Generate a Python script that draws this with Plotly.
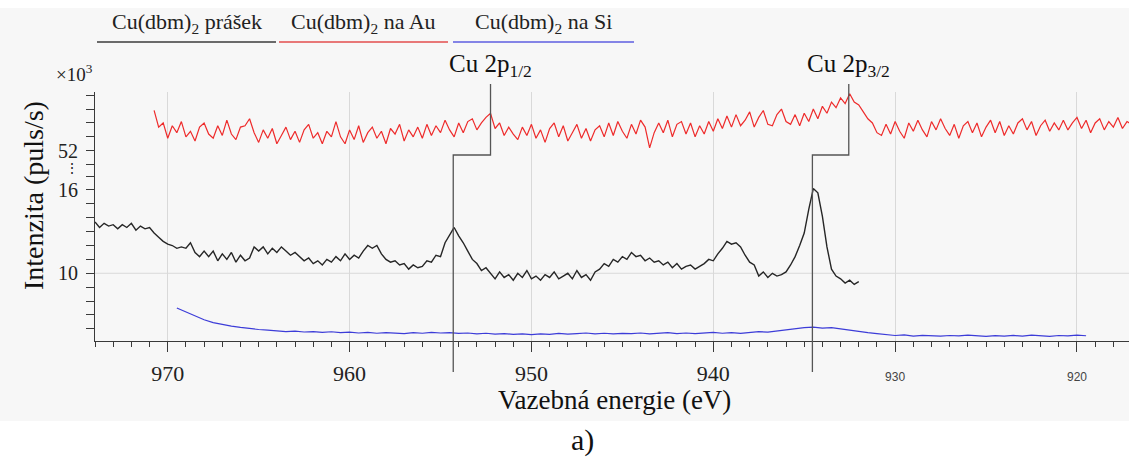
import numpy as np
import plotly.graph_objects as go

# --- data (counts in units of 10^3 puls/s) ---------------------------------
# Cu(dbm)2 powder: 974.0 -> 932.0 eV, 0.25 eV step
powder_start, powder_stop, powder_step = 974.0, 932.0, 0.25
powder_counts = [
    13.7, 13.3, 13.6, 13.4, 13.5, 13.2, 13.5, 13.3, 13.6, 13.1, 13.4, 13.2,
    13.3, 12.9, 12.6, 12.3, 12.1,
    12.0, 11.8, 11.9, 11.8,
    12.2, 11.5, 11.2, 11.6,
    11.2, 11.6, 10.9, 11.4, 11.0, 11.5, 10.8, 11.3, 10.9, 11.1, 11.9,
    11.6, 11.9, 11.4, 11.8, 11.5, 11.9, 11.6, 11.3, 11.5, 11.2,
    10.9, 11.1, 10.7, 10.9, 10.6,
    11.0, 10.8, 11.2, 10.9, 11.4, 11.0, 11.3, 11.1, 11.6,
    12.0, 11.8, 12.0, 11.4,
    11.0, 10.8, 10.9, 10.6, 10.7, 10.3, 10.6, 10.4, 10.5,
    10.9, 10.8, 11.3, 11.2,
    12.2, 12.8, 13.3,
    12.7, 12.2, 11.6, 11.0, 10.7, 10.2, 10.4, 10.0,
    9.6, 10.1, 9.7, 9.9, 9.5, 10.0, 9.7, 10.2, 9.6, 9.8, 9.5, 9.9,
    9.7, 10.1, 9.6, 9.8, 10.0, 9.6, 10.2, 9.7, 9.9, 9.5, 10.1,
    10.3, 10.7, 10.5,
    11.0, 10.8, 11.2, 11.0, 11.5, 11.2, 11.3, 10.9, 11.1, 10.8,
    10.9, 10.6, 10.8, 10.4, 10.7, 10.3, 10.5, 10.6, 10.3, 10.5,
    10.7, 11.0, 10.9, 11.4, 11.8, 12.3,
    12.1, 12.2, 11.9, 11.3, 10.8,
    10.6, 9.8, 10.1, 9.7, 10.0, 9.8, 9.9,
    10.1, 10.6, 11.2, 12.0, 12.9, 14.6, 16.1, 15.8, 14.1,
    11.9, 10.3, 9.8, 9.6, 9.3, 9.5, 9.2, 9.4,
]

# Cu(dbm)2 on Au: 970.75 -> 917.0 eV, 0.25 eV step
au_start, au_stop, au_step = 970.75, 917.0, 0.25
au_counts = [
    54.9, 53.7, 54.0, 52.9, 53.8, 53.3, 54.1, 53.0, 53.4, 52.7,
    53.7, 54.0, 53.2, 52.9, 53.8, 53.1, 54.2, 53.2, 52.8, 53.7,
    53.8, 54.3, 53.3, 52.6, 53.5, 52.9, 53.6, 52.5, 53.1, 53.7,
    52.8, 53.4, 52.6, 53.5, 53.9, 52.9, 53.3, 52.5, 53.4, 53.0,
    54.1, 53.0, 52.5, 53.5, 52.8, 53.8, 52.6, 53.3, 53.7, 52.9,
    53.4, 52.5, 53.6, 53.2, 53.9, 52.7, 53.5, 53.0, 53.7, 52.9,
    53.9, 53.1, 53.8, 53.3, 54.2, 53.5, 53.0, 54.0, 53.3, 54.1,
    54.3, 53.5, 54.0, 54.4, 54.7, 53.6, 54.0, 53.1, 53.7, 53.2,
    52.8, 53.7, 53.1, 53.9, 52.9, 53.5, 52.6, 53.6, 54.0, 53.0,
    53.8, 52.7, 53.3, 53.9, 52.9, 53.6, 52.7, 53.5, 53.8, 53.0,
    54.0, 53.1, 54.1, 53.4, 52.9, 53.9, 53.2, 54.2, 53.7, 52.2,
    53.3, 54.0, 53.3, 54.2, 53.0, 53.9, 54.1, 53.2, 54.0, 53.0,
    53.8, 53.2, 54.1, 53.4, 54.3, 53.6, 54.5, 53.7, 54.6, 53.8,
    54.2, 54.8, 53.7, 54.4, 54.9, 53.9, 53.8, 54.6, 55.0, 54.1,
    53.9, 54.6, 53.8, 54.7, 54.1, 55.0, 54.3, 55.2, 54.7, 55.5,
    55.1, 55.8, 55.4, 56.1, 55.5, 55.3, 54.8, 54.3, 54.0, 53.3,
    53.1, 53.9, 53.2, 54.1, 53.4, 52.9, 54.0, 53.4, 54.2, 53.5,
    53.0, 54.1, 53.5, 54.3, 53.6, 53.1, 53.9, 52.9, 53.8, 54.1,
    53.3, 54.0, 53.0, 53.7, 54.2, 53.3, 54.1, 53.1, 53.8, 53.2,
    54.0, 54.3, 53.5, 54.1, 53.1, 53.8, 54.2, 53.4, 54.0, 53.5,
    54.2, 53.5, 54.0, 54.4, 53.6, 54.2, 53.3, 54.0, 54.3, 53.5,
    54.1, 53.7, 54.4, 53.6, 54.1, 53.9,
]

# Cu(dbm)2 on Si: 969.5 -> 919.5 eV, 0.5 eV step
si_start, si_stop, si_step = 969.5, 919.5, 0.5
si_counts = [
    7.5, 7.2, 6.9, 6.65, 6.45, 6.3, 6.2, 6.1, 6.0, 5.95,
    5.9, 5.86, 5.8, 5.84, 5.77, 5.8, 5.74, 5.79, 5.72, 5.76,
    5.7, 5.75, 5.68, 5.73, 5.7, 5.66, 5.72, 5.68, 5.74, 5.7,
    5.73, 5.67, 5.7, 5.64, 5.68, 5.62, 5.66, 5.6, 5.64, 5.58,
    5.63, 5.6, 5.67, 5.62, 5.66, 5.7, 5.64, 5.68, 5.63, 5.67,
    5.65, 5.7, 5.64, 5.68, 5.72, 5.66, 5.7, 5.65, 5.69, 5.74,
    5.68, 5.72, 5.67, 5.75, 5.8, 5.76, 5.85, 5.9, 6.0, 6.08,
    6.12, 6.05, 6.08, 5.98, 5.9, 5.82, 5.72, 5.66, 5.58, 5.52,
    5.56, 5.48, 5.53, 5.5, 5.47, 5.52, 5.49, 5.55, 5.5, 5.46,
    5.51, 5.48, 5.53, 5.47, 5.55, 5.5, 5.46, 5.52, 5.49, 5.54, 5.5,
]

series_names = ["Cu(dbm)<sub>2</sub> prášek", "Cu(dbm)<sub>2</sub> na Au", "Cu(dbm)<sub>2</sub> na Si"]
line_colors = ["#262626", "#ee2b2b", "#3c3cd8"]
legend_colors = ["#6a6a6a", "#e87878", "#8484e6"]

# Cu 2p peak positions (eV): powder peak and Au-film peak for each line
peak_labels = ["Cu 2p<sub>1/2</sub>", "Cu 2p<sub>3/2</sub>"]
peak_powder = [954.3, 934.55]
peak_au = [952.25, 932.55]

x_tick_vals = [970, 960, 950, 940, 930, 920]
lower_labels = [10, 16]
upper_labels = [52]

# --- figure -----------------------------------------------------------------
def grid(start, stop, step):
    n = int(round((start - stop) / step)) + 1
    return start - step * np.arange(n)

e_powder = grid(powder_start, powder_stop, powder_step)
e_au = grid(au_start, au_stop, au_step)
e_si = grid(si_start, si_stop, si_step)

SERIF = "Liberation Serif"
W, H = 1129, 461
ML, MR, MT, MB = 95, 0, 92, 120
plot_w = W - ML - MR
plot_h = H - MT - MB


def px_x(px):
    return (px - ML) / plot_w


def px_y(py):
    return (H - MB - py) / plot_h


split = px_y(170)

fig = go.Figure()
fig.add_trace(go.Scatter(x=e_powder, y=powder_counts, mode="lines", name=series_names[0],
                         line=dict(color=line_colors[0], width=1.4), yaxis="y"))
fig.add_trace(go.Scatter(x=e_si, y=si_counts, mode="lines", name=series_names[2],
                         line=dict(color=line_colors[2], width=1.2), yaxis="y"))
fig.add_trace(go.Scatter(x=e_au, y=au_counts, mode="lines", name=series_names[1],
                         line=dict(color=line_colors[1], width=1.2), yaxis="y2"))

axis_color = "#3a3a3a"
tick_font = dict(family=SERIF, size=20, color="#222222")

x_tick_text = []
for v in x_tick_vals:
    if v >= 940:
        x_tick_text.append(str(v))
    else:
        x_tick_text.append(
            f"<span style='font-family:Liberation Sans;font-size:12px;fill:#444'>{v}</span>")

minor_y = dict(dtick=1, ticks="outside", ticklen=8, tickwidth=1.2,
               tickcolor=axis_color, showgrid=False)

fig.update_layout(
    width=W, height=H,
    margin=dict(l=ML, r=MR, t=MT, b=MB),
    paper_bgcolor="white",
    plot_bgcolor="rgba(0,0,0,0)",
    showlegend=False,
    xaxis=dict(
        range=[974.0, 917.14],
        tickvals=x_tick_vals, ticktext=x_tick_text,
        ticks="outside", ticklen=10, tickwidth=1.2, tickcolor=axis_color,
        showline=True, linecolor=axis_color, linewidth=1.2,
        showgrid=True, gridcolor="#d9d9d9", gridwidth=1,
        zeroline=False, tickfont=dict(family=SERIF, size=22, color="#222222"),
        ticklabelstandoff=2,
        minor=dict(dtick=1, tick0=970, ticks="outside", ticklen=5,
                   tickcolor=axis_color, tickwidth=1, showgrid=False),
    ),
    yaxis=dict(
        domain=[0, split], range=[5.123, 17.44],
        tickvals=lower_labels, ticktext=[str(v) for v in lower_labels],
        ticks="outside", ticklen=8, tickwidth=1.2, tickcolor=axis_color,
        showline=True, linecolor=axis_color, linewidth=1.2,
        showgrid=False, zeroline=False, tickfont=tick_font, ticklabelstandoff=4,
        minor=dict(minor_y, tick0=6),
    ),
    yaxis2=dict(
        domain=[split, 1], range=[50.61, 56.23], anchor="x",
        tickvals=upper_labels, ticktext=[str(v) for v in upper_labels],
        ticks="outside", ticklen=8, tickwidth=1.2, tickcolor=axis_color,
        showline=True, linecolor=axis_color, linewidth=1.2,
        showgrid=False, zeroline=False, tickfont=tick_font, ticklabelstandoff=4,
        minor=dict(minor_y, tick0=51),
    ),
)

shapes = []
# light grey page panel behind the chart
shapes.append(dict(type="rect", xref="paper", yref="paper", layer="below",
                   x0=px_x(0), x1=px_x(W), y0=px_y(8), y1=px_y(421),
                   fillcolor="#f7f7f7", line=dict(width=0)))
# horizontal guide at 10
shapes.append(dict(type="line", xref="paper", yref="y", layer="below",
                   x0=0, x1=1, y0=10, y1=10, line=dict(color="#d9d9d9", width=1)))

# peak leader lines and labels
annotations = []
for label, ep, ea in zip(peak_labels, peak_powder, peak_au):
    y_top, y_knee, y_bot = px_y(84), px_y(155), px_y(372)
    shapes.append(dict(type="path", xref="x", yref="paper",
                       path=f"M {ea},{y_top} L {ea},{y_knee} L {ep},{y_knee} L {ep},{y_bot}",
                       line=dict(color="#555555", width=1.3)))
    annotations.append(dict(x=ea, xref="x", y=px_y(65), yref="paper", text=label,
                            showarrow=False, font=dict(family=SERIF, size=25, color="#111111"),
                            xanchor="center", yanchor="middle"))

# legend row: label with coloured underline
legend_spans = [(97, 276), (279, 448), (453, 634)]
for name, col, (a, b) in zip(series_names, legend_colors, legend_spans):
    shapes.append(dict(type="line", xref="paper", yref="paper",
                       x0=px_x(a), x1=px_x(b), y0=px_y(42), y1=px_y(42),
                       line=dict(color=col, width=2)))
    annotations.append(dict(x=px_x((a + b) / 2), xref="paper", y=px_y(23), yref="paper",
                            text=name, showarrow=False,
                            font=dict(family=SERIF, size=22, color="#222222"),
                            xanchor="center", yanchor="middle"))

centered = dict(xref="paper", yref="paper", showarrow=False, xanchor="center", yanchor="middle")
annotations += [
    dict(centered, x=px_x(74), y=px_y(73), text="×10<sup>3</sup>",
         font=dict(family=SERIF, size=19, color="#222222")),
    dict(centered, x=px_x(72), y=px_y(168), text="⋮",
         font=dict(family=SERIF, size=14, color="#222222")),
    dict(centered, x=px_x(33), y=px_y(196), text="Intenzita (puls/s)", textangle=-90,
         font=dict(family=SERIF, size=28, color="#111111")),
    dict(centered, x=px_x(614), y=px_y(400), text="Vazebná energie (eV)",
         font=dict(family=SERIF, size=27, color="#111111")),
    dict(centered, x=px_x(582), y=px_y(440), text="a)",
         font=dict(family=SERIF, size=30, color="#111111")),
]

fig.update_layout(shapes=shapes, annotations=annotations)
fig.write_html("out.html")
